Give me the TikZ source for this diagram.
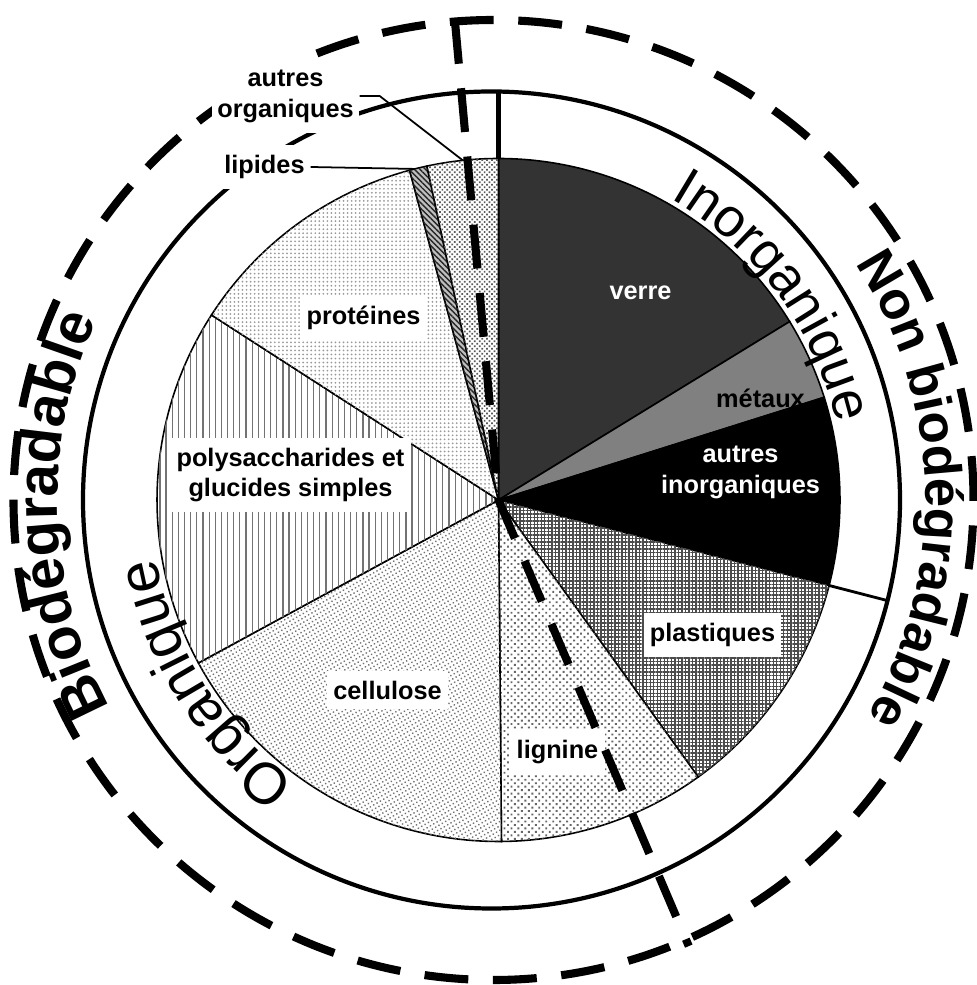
\documentclass[tikz,border=0pt]{standalone}
\usepackage{fontspec}
\setmainfont{Liberation Sans}
\usetikzlibrary{patterns.meta,decorations.text}

\begin{document}
\begin{tikzpicture}
  \tikzstyle{slice}=[draw=black, line width=.45pt]
  \tikzstyle{verre}=[fill=black!80]
  \tikzstyle{metaux}=[fill=black!50]
  \tikzstyle{autinorg}=[fill=black]
  \tikzstyle{plastiques}=[fill=white,
      postaction={pattern={Lines[angle=0,distance=1pt,line width=.4pt]}, pattern color=black!70},
      postaction={pattern={Lines[angle=90,distance=1pt,line width=.4pt]}, pattern color=black!70}]
  \tikzstyle{lignine}=[fill=white, postaction={pattern={Dots[distance=1.4pt,radius=.38pt,angle=45]}, pattern color=black!60}]
  \tikzstyle{cellulose}=[fill=white, postaction={pattern={Dots[distance=1.1pt,radius=.28pt,angle=30]}, pattern color=black!55}]
  \tikzstyle{polysacch}=[fill=white, postaction={pattern={Lines[angle=90,distance=1.75pt,line width=.35pt]}, pattern color=black!55}]
  \tikzstyle{proteines}=[fill=white, postaction={pattern={Dots[distance=1.15pt,radius=.28pt]}, pattern color=black!40}]
  \tikzstyle{lipides}=[fill=black!25, postaction={pattern={Lines[angle=-45,distance=1.1pt,line width=.4pt]}, pattern color=black!85}]
  \tikzstyle{autorg}=[fill=white, postaction={pattern={Dots[distance=1pt,radius=.35pt,angle=45]}, pattern color=black!65}]
  \tikzstyle{lbl}=[font=\fontsize{7.2}{8.8}\selectfont\bfseries, align=center, inner sep=0pt]
  \tikzstyle{boxed}=[lbl, fill=white, inner xsep=1.8pt, inner ysep=2.8pt]
  \tikzstyle{outside}=[lbl, fill=white, inner xsep=1.5pt, inner ysep=3pt]
  \tikzstyle{ring}=[line width=1.2pt]
  \tikzstyle{leader}=[line width=.5pt]
  \tikzstyle{zone}=[line width=2.3pt, dash pattern=on 12.5pt off 7pt]

  \useasboundingbox (-4.985,-4.85) rectangle (4.785,5);
  \clip (-4.985,-4.85) rectangle (4.785,5);
  \fill[white] (-4.985,-4.85) rectangle (4.785,5);

  \def\R{3.415}
  \foreach \a/\b/\s in {90/31.5/verre, 31.5/17.5/metaux, 17.5/-14.5/autinorg,
      -14.5/-54.2/plastiques, -54.2/-89.5/lignine, -89.5/-151.5/cellulose,
      -151.5/-212.8/polysacch, -212.8/-254.9/proteines, -254.9/-257.9/lipides,
      -257.9/-270/autorg}
    \filldraw[slice,\s] (0,0) -- (\a:\R) arc[start angle=\a, end angle=\b, radius=\R] -- cycle;

  \draw[ring] (-0.07,0) circle[radius=4.085];
  \coordinate (topA) at (90:\R);
  \coordinate (topB) at (0,4.084);
  \draw[ring] (topA) -- (topB);
  \coordinate (sideA) at (-14.5:\R);
  \coordinate (sideB) at (-14.5:4.02);
  \draw[line width=.8pt] (sideA) -- (sideB);

  \node[lbl, white] (verreL) at (1.42,2.07) {verre};
  \node[lbl] (metauxL) at (2.62,1.02) {métaux};
  \node[lbl, white] (autinorgL) at (2.42,0.28) {autres\\inorganiques};
  \node[boxed] (plastL) at (2.14,-1.35) {plastiques};
  \node[boxed] (lignL) at (0.59,-2.52) {lignine};
  \node[boxed] (cellL) at (-1.11,-1.90) {cellulose};
  \node[boxed] (polyL) at (-2.08,0.25) {polysaccharides et\\glucides simples};
  \node[boxed] (protL) at (-1.35,1.82) {protéines};

  \path[decorate, decoration={text along path, text align=center,
      text={|\fontsize{15.5}{20}\selectfont|Inorganique}}]
    (70:3.47) arc[start angle=70, end angle=3, radius=3.47];
  \path[decorate, decoration={text along path, text align=center,
      text={|\fontsize{16.5}{20}\selectfont|Organique}}]
    (245:3.47) arc[start angle=245, end angle=179, radius=3.47];
  \path[shift={(-0.07,0)}, decorate, decoration={text along path, text align=center,
      text={|\bfseries\fontsize{16.5}{20}\selectfont|Biodégradable}}]
    (218:4.34) arc[start angle=218, end angle=146, radius=4.34];
  \path[shift={(-0.07,0)}, decorate, decoration={text along path, text align=center,
      text={|\bfseries\fontsize{15}{20}\selectfont|Non biodégradable}}]
    (42:4.34) arc[start angle=42, end angle=-39, radius=4.34];

  \draw[zone] (-0.05,0) circle[radius=4.8];
  \coordinate (cutTop) at (95.2:4.82);
  \coordinate (cutBot) at (-66.9:4.85);
  \draw[zone] (cutTop) -- (0,0) -- (cutBot);

  \node[outside] (lipL) at (-2.34,3.33) {lipides};
  \node[outside] (autorgL) at (-2.13,4.04) {autres\\organiques};
  \coordinate (lipA) at (104.2:\R);
  \draw[leader] (lipL.east) -- (lipA);
  \coordinate (autorgA) at (96:\R);
  \draw[leader] (autorgL.east) -- ++(0.2,0) -- (autorgA);
\end{tikzpicture}
\end{document}
